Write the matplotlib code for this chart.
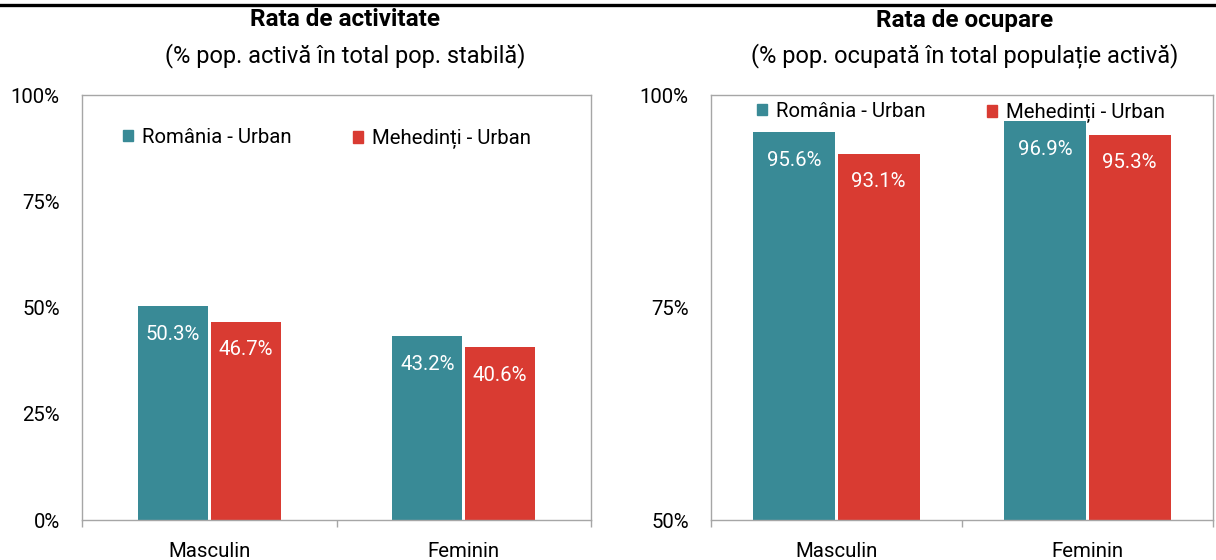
import matplotlib
matplotlib.use("Agg")
import matplotlib.pyplot as plt
from matplotlib.patches import Patch
from matplotlib.lines import Line2D
import numpy as np

# ----------------
# Data
categories = ["Masculin", "Feminin"]
series_names = ["România - Urban", "Mehedinți - Urban"]

activ_romania = [50.3, 43.2]
activ_mehedinti = [46.7, 40.6]

ocup_romania = [95.6, 96.9]
ocup_mehedinti = [93.1, 95.3]

titles = ["Rata de activitate", "Rata de ocupare"]
subtitles = ["(% pop. activă în total pop. stabilă)",
             "(% pop. ocupată în total populație activă)"]

# ----------------
# Style
teal = "#398A96"
red = "#D93B32"
frame = "#A6A6A6"
plt.rcParams['font.family'] = ["Roboto", "DejaVu Sans"]
fs = 14.7

W, H = 1216, 560
fig = plt.figure(figsize=(W/100, H/100), dpi=100)

# thick black line at the top of the figure
fig.add_artist(Line2D([0, 1], [1 - 5/H, 1 - 5/H], color="black", lw=2.4,
                      transform=fig.transFigure))

ax1 = fig.add_axes([82/W, 40/H, 509/W, 425/H])
ax2 = fig.add_axes([711/W, 40/H, 502/W, 425/H])


def draw(ax, ro, me, ylim, yticks, width, offset, leg_x, leg_y):
    x = np.arange(len(categories)) + 0.5
    b1 = ax.bar(x - offset, ro, width, color=teal, zorder=2)
    b2 = ax.bar(x + offset, me, width, color=red, zorder=2)
    for bars, vals in [(b1, ro), (b2, me)]:
        for b, v in zip(bars, vals):
            ax.annotate(f"{v:.1f}%", (b.get_x() + b.get_width()/2, v),
                        xytext=(0, -20), textcoords="offset points",
                        ha="center", va="center", color="white", fontsize=fs)
    ax.set_xlim(0, len(categories))
    ax.set_ylim(*ylim)
    ax.set_yticks(yticks)
    ax.set_yticklabels([f"{t}%" for t in yticks])
    ax.set_xticks(x)
    ax.set_xticklabels(categories)
    ax.set_xticks(np.arange(len(categories) + 1), minor=True)
    ax.tick_params(axis="y", length=0, pad=16, labelsize=fs)
    ax.tick_params(axis="x", which="major", length=0, pad=16, labelsize=fs)
    ax.tick_params(axis="x", which="minor", length=5, width=1, color=frame,
                   direction="out")
    for s in ax.spines.values():
        s.set_color(frame)
        s.set_linewidth(1)
    # one legend per series so each entry sits where the reference has it
    legs = []
    for name, col, lx, ly in zip(series_names, [teal, red], leg_x, leg_y):
        leg = ax.legend([Patch(color=col)], [name], loc="center left",
                        bbox_to_anchor=(lx, ly), frameon=False, fontsize=fs,
                        borderpad=0, borderaxespad=0, handlelength=0.5,
                        handleheight=0.5, handletextpad=0.45)
        legs.append(leg)
    for leg in legs[:-1]:
        ax.add_artist(leg)


draw(ax1, activ_romania, activ_mehedinti, (0, 100), [0, 25, 50, 75, 100],
     0.275, 0.143, [41/509, 271/509], [0.901, 0.896])
draw(ax2, ocup_romania, ocup_mehedinti, (50, 100), [50, 75, 100],
     0.327, 0.168, [46/502, 276/502], [0.962, 0.957])

# titles
for cx, t, st in [(345, titles[0], subtitles[0]), (965, titles[1], subtitles[1])]:
    fig.text(cx/W, 1 - 20/H, t, ha="center", va="center",
             fontsize=17.5, fontweight="bold")
    fig.text(cx/W, 1 - 56/H, st, ha="center", va="center", fontsize=17)

fig.savefig("out.png", dpi=100)
